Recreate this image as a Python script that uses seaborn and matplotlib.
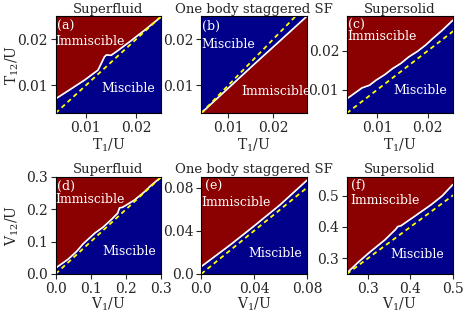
import matplotlib
matplotlib.use("Agg")
import matplotlib.pyplot as plt
import seaborn as sns
import numpy as np

# границы фаз
a_x = [0.004, 0.007, 0.0098, 0.0124, 0.0129, 0.0137, 0.0141, 0.0150, 0.0163, 0.019, 0.0216, 0.025]
a_y = [0.0071, 0.0092, 0.0112, 0.0133, 0.0144, 0.0162, 0.0166, 0.0165, 0.0175, 0.0197, 0.0219, 0.0249]

b_x = [0.004, 0.010, 0.016, 0.022, 0.0275]
b_y = [0.004, 0.0094, 0.0148, 0.0201, 0.025]

c_x = [0.004, 0.0055, 0.007, 0.0085, 0.0098, 0.0115, 0.0131, 0.0147, 0.0163, 0.018, 0.0196, 0.0212, 0.0229, 0.025]
c_y = [0.0077, 0.0091, 0.0105, 0.0112, 0.0125, 0.0139, 0.0155, 0.0168, 0.0185, 0.0199, 0.0215, 0.0234, 0.0253, 0.0279]

d_x = [0.0, 0.036, 0.060, 0.078, 0.111, 0.135, 0.158, 0.176, 0.181, 0.190, 0.223, 0.25, 0.27, 0.3]
d_y = [0.018, 0.046, 0.070, 0.093, 0.126, 0.145, 0.168, 0.188, 0.204, 0.206, 0.228, 0.252, 0.273, 0.3]

e_x = [0.0, 0.022, 0.0395, 0.0595, 0.08]
e_y = [0.0068, 0.0270, 0.0440, 0.0640, 0.0869]

f_x = [0.25, 0.275, 0.301, 0.340, 0.365, 0.370, 0.378, 0.41, 0.449, 0.475, 0.5]
f_y = [0.253, 0.285, 0.316, 0.359, 0.392, 0.401, 0.404, 0.434, 0.471, 0.499, 0.535]

titles = ["Superfluid", "One body staggered SF", "Supersolid"] * 2
tags = ["(a)", "(b)", "(c)", "(d)", "(e)", "(f)"]
xlims = [(0.004, 0.025), (0.004, 0.0275), (0.004, 0.025), (0.0, 0.3), (0.0, 0.08), (0.25, 0.5)]
ylims = [(0.004, 0.025), (0.004, 0.025), (0.004, 0.029), (0.0, 0.3), (0.0, 0.09), (0.25, 0.56)]
xticks = [[0.01, 0.02], [0.01, 0.02], [0.01, 0.02], [0.0, 0.1, 0.2, 0.3], [0.0, 0.04, 0.08], [0.3, 0.4, 0.5]]
xticklabels = [["0.01", "0.02"], ["0.01", "0.02"], ["0.01", "0.02"], ["0.0", "0.1", "0.2", "0.3"], ["0.0", "0.04", "0.08"], ["0.3", "0.4", "0.5"]]
yticks = [[0.01, 0.02], [0.01, 0.02], [0.01, 0.02], [0.0, 0.1, 0.2, 0.3], [0.0, 0.04, 0.08], [0.3, 0.4, 0.5]]
yticklabels = xticklabels
boundaries = [(a_x, a_y), (b_x, b_y), (c_x, c_y), (d_x, d_y), (e_x, e_y), (f_x, f_y)]
# в (b) смешиваемая фаза сверху
miscible_above = [False, True, False, False, False, False]

# подписи внутри панелей (доли осей)
tag_pos = [(0.01, 0.894), (0.01, 0.894), (0.01, 0.904), (0.01, 0.903), (0.04, 0.903), (0.04, 0.91)]
immisc_pos = [(0.0, 0.734), (0.378, 0.222), (0.0, 0.785), (0.0, 0.766), (0.0, 0.738), (0.03, 0.758)]
misc_pos = [(0.43, 0.256), (0.0, 0.706), (0.4375, 0.232), (0.4375, 0.228), (0.447, 0.214), (0.415, 0.203)]

red = "#8b0000"
blue = "#00008b"

sns.set_style("ticks")
plt.rcParams['font.family'] = ['DejaVu Serif']
plt.rcParams['mathtext.fontset'] = 'dejavuserif'

fig, axes = plt.subplots(2, 3, figsize=(4.63, 3.12), dpi=100)
fig.subplots_adjust(left=0.12, right=0.9778, bottom=0.122, top=0.9487, wspace=0.375, hspace=0.655)

for i, ax in enumerate(axes.flat):
    bx, by = boundaries[i]
    x0, x1 = xlims[i]
    y0, y1 = ylims[i]
    low_c, high_c = (red, blue) if miscible_above[i] else (blue, red)
    ax.fill_between(bx, y0, by, color=low_c, lw=0)
    ax.fill_between(bx, by, y1, color=high_c, lw=0)
    sns.lineplot(x=bx, y=by, ax=ax, color="white", lw=1.2, sort=False)
    sns.lineplot(x=[x0, y1], y=[x0, y1], ax=ax, color="yellow", lw=1.3, dashes=False)
    ax.lines[-1].set_dashes([2.5, 2])
    ax.set_xlim(x0, x1)
    ax.set_ylim(y0, y1)
    ax.set_xticks(xticks[i])
    ax.set_xticklabels(xticklabels[i], fontsize=10)
    ax.set_yticks(yticks[i])
    ax.set_yticklabels(yticklabels[i], fontsize=10)
    ax.tick_params(length=3.5, width=0.8, pad=2)
    ax.set_title(titles[i], fontsize=9.5, pad=2.5)
    if i < 3:
        ax.set_xlabel(r"$\mathrm{T}_{1}$/U", fontsize=10, labelpad=1)
    else:
        ax.set_xlabel(r"$\mathrm{V}_{1}$/U", fontsize=10, labelpad=0)
    ax.text(*tag_pos[i], tags[i], transform=ax.transAxes, color="white", fontsize=9, ha="left", va="center")
    ax.text(*immisc_pos[i], "Immiscible", transform=ax.transAxes, color="white", fontsize=9, ha="left", va="center")
    ax.text(*misc_pos[i], "Miscible", transform=ax.transAxes, color="white", fontsize=9, ha="left", va="center")
    for s in ax.spines.values():
        s.set_visible(True)
        s.set_color("black")

axes[0, 0].set_ylabel(r"$\mathrm{T}_{12}$/U", fontsize=10)
axes[1, 0].set_ylabel(r"$\mathrm{V}_{12}$/U", fontsize=10)
axes[0, 0].yaxis.set_label_coords(-0.33, 0.5)
axes[1, 0].yaxis.set_label_coords(-0.33, 0.5)

plt.savefig("out.png", dpi=100)
